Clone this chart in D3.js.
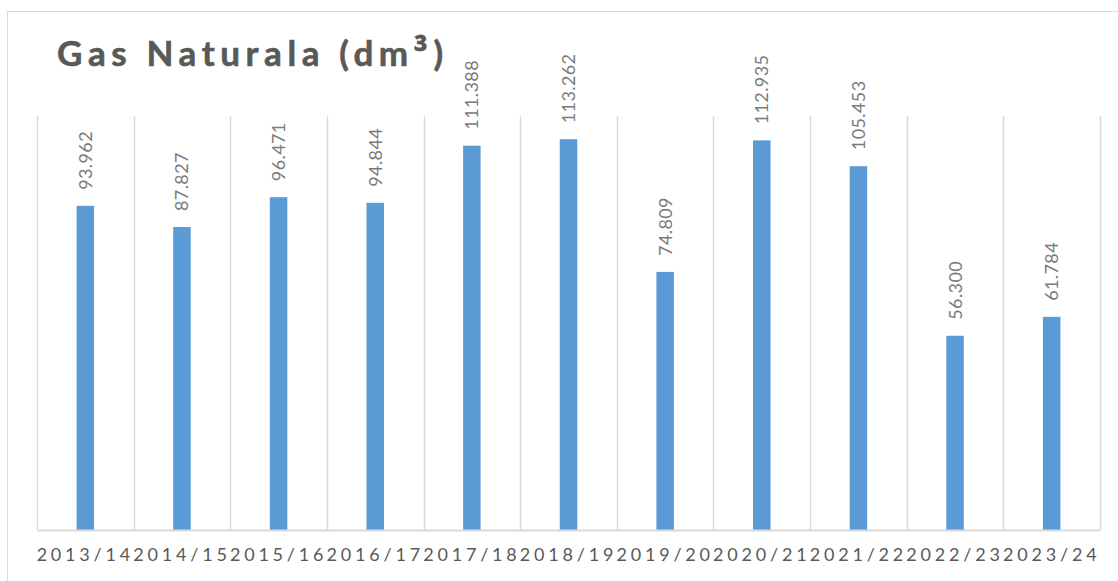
<!DOCTYPE html>
<html><head><meta charset="utf-8">
<script src="https://cdn.jsdelivr.net/npm/d3@7"></script>
<style>body{margin:0;background:#fff;}svg{display:block;}</style>
</head><body>
<script>
const categories = ["2013/14","2014/15","2015/16","2016/17","2017/18","2018/19","2019/20","2020/21","2021/22","2022/23","2023/24"];
const values = [93.962, 87.827, 96.471, 94.844, 111.388, 113.262, 74.809, 112.935, 105.453, 56.300, 61.784];
const labels = ["93.962","87.827","96.471","94.844","111.388","113.262","74.809","112.935","105.453","56.300","61.784"];
const titleMain = "Gas Naturala (dm";
const titleSup = "³";
const titleEnd = ")";

(function () {
const W = 1118, H = 581;
const svg = d3.select("body").append("svg").attr("width", W).attr("height", H);
const font = "Lato, 'Open Sans', sans-serif";

// outer frame
svg.append("rect").attr("x", 7.5).attr("y", 11.5).attr("width", W).attr("height", H)
  .attr("fill", "none").attr("stroke", "#d9d9d9").attr("stroke-width", 1);

const pL = 37, pR = 1100, pT = 116, pB = 530;
const x = d3.scaleBand().domain(categories).range([pL, pR]).paddingInner(0).paddingOuter(0);
const y = d3.scaleLinear().domain([0, 120]).range([pB, pT]);

// vertical separators
const seps = d3.range(categories.length + 1).map(i => pL + i * x.step());
svg.append("g").selectAll("line").data(seps).join("line")
  .attr("x1", d => Math.round(d) + 0.5).attr("x2", d => Math.round(d) + 0.5)
  .attr("y1", pT).attr("y2", pB)
  .attr("stroke", "#d9d9d9").attr("stroke-width", 1.5);

// bars
const bw = 17.5;
svg.append("g").selectAll("rect").data(values).join("rect")
  .attr("x", (d, i) => x(categories[i]) + x.bandwidth() / 2 - bw / 2)
  .attr("width", bw)
  .attr("y", d => y(d))
  .attr("height", d => pB - y(d))
  .attr("fill", "#5b9bd5");

// baseline axis
const xAxis = d3.axisBottom(x).tickSize(0).tickPadding(18);
const ga = svg.append("g").attr("transform", `translate(0,${pB})`).call(xAxis);
ga.select(".domain").attr("stroke", "#d9d9d9").attr("stroke-width", 2);
ga.selectAll("text").attr("font-family", font).attr("font-size", 18)
  .attr("fill", "#595959").attr("letter-spacing", "3.8px");

// data labels
svg.append("g").selectAll("text").data(values).join("text")
  .attr("transform", (d, i) => `translate(${x(categories[i]) + x.bandwidth() / 2 + 6.5},${y(d) - 16}) rotate(-90)`)
  .attr("text-anchor", "start")
  .attr("font-family", font).attr("font-size", 18).attr("letter-spacing", "0.4px").attr("fill", "#7a7a7a")
  .text((d, i) => labels[i]);

// title
const t = svg.append("text").attr("x", 57).attr("y", 66)
  .attr("font-family", font).attr("font-weight", "bold").attr("font-size", 35)
  .attr("letter-spacing", "5.6px").attr("fill", "#595959")
  .attr("stroke", "#595959").attr("stroke-width", 0.6);
t.append("tspan").text(titleMain);
t.append("tspan").attr("font-family", "'Open Sans', sans-serif").attr("font-size", 37).text(titleSup);
t.append("tspan").text(titleEnd);
})();
</script>
</body></html>
